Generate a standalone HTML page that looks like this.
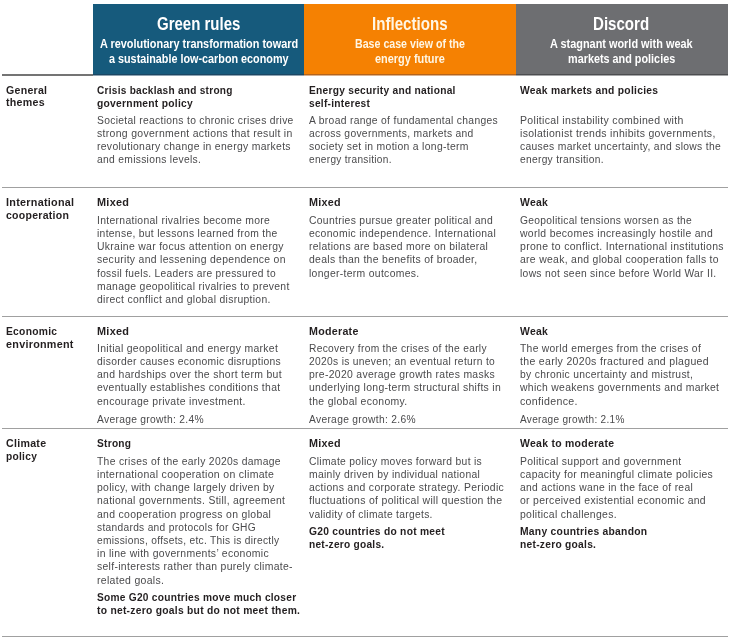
<!DOCTYPE html>
<html lang="en">
<head>
<meta charset="utf-8">
<title>Scenario comparison</title>
<style>
html,body{margin:0;padding:0;background:#fff;}
body{width:731px;height:639px;overflow:hidden;position:relative;font-family:"Liberation Sans",sans-serif;}
#tbl{position:absolute;left:0;top:0;width:731px;height:639px;}
.col{position:absolute;top:4px;height:72px;}
.c1{left:93px;width:211px;background:linear-gradient(#165a7c 0,#165a7c 70px,#1b4764 70px,#1b4764 71px,#8ea4b3 71px,#8ea4b3 72px);}
.c2{left:304px;width:212px;background:linear-gradient(#f58102 0,#f58102 70px,#b5641b 70px,#b5641b 71px,#dbb28e 71px,#dbb28e 72px);}
.c3{left:516px;width:212px;background:linear-gradient(#6d6e71 0,#6d6e71 70px,#4c4d50 70px,#4c4d50 71px,#a6a7a9 71px,#a6a7a9 72px);}
.rule{position:absolute;left:2px;width:726px;height:1px;background:#a0a0a0;}
.rule.top{top:74px;height:2px;width:91px;background:#747474;}
.cell,.rowh,.hd3{position:absolute;left:0;top:0;}
.ln{position:absolute;display:block;white-space:nowrap;line-height:14px;height:14px;transform-origin:0 50%;}
.ht{font-size:17.6px;font-weight:bold;color:#fff;}
.hs{font-size:12.2px;font-weight:bold;color:#fff;}
.h2 .ht,.h2 .hs{color:#fff6e4;}
.lb{font-size:11.7px;font-weight:bold;color:#231f20;letter-spacing:0.3px;}
.hd{font-size:11.7px;font-weight:bold;color:#231f20;letter-spacing:0.3px;}
.bd{font-size:11.7px;color:#4a4a4c;letter-spacing:0.35px;}
</style>
</head>
<body>
<div id="tbl">
<div class="col c1"></div><div class="col c2"></div><div class="col c3"></div>
<div class="rule top"></div>
<div class="rule" style="top:187px"></div>
<div class="rule" style="top:316px"></div>
<div class="rule" style="top:428px"></div>
<div class="rule" style="top:636px"></div>
<div class="hd3 h1">
<span class="ln ht" id="n0" style="left:156.81px;top:16.90px;transform:scaleX(0.8528)">Green rules</span>
<span class="ln hs" id="n1" style="left:100.32px;top:36.77px;transform:scaleX(0.8939)">A revolutionary transformation toward</span>
<span class="ln hs" id="n2" style="left:109.45px;top:52.37px;transform:scaleX(0.8866)">a sustainable low-carbon economy</span>
</div>
<div class="hd3 h2">
<span class="ln ht" id="n3" style="left:371.90px;top:16.60px;transform:scaleX(0.8598)">Inflections</span>
<span class="ln hs" id="n4" style="left:355.01px;top:36.77px;transform:scaleX(0.8726)">Base case view of the</span>
<span class="ln hs" id="n5" style="left:374.54px;top:52.37px;transform:scaleX(0.8974)">energy future</span>
</div>
<div class="hd3 h3">
<span class="ln ht" id="n6" style="left:592.91px;top:16.60px;transform:scaleX(0.8569)">Discord</span>
<span class="ln hs" id="n7" style="left:549.67px;top:36.77px;transform:scaleX(0.8948)">A stagnant world with weak</span>
<span class="ln hs" id="n8" style="left:568.32px;top:52.37px;transform:scaleX(0.8890)">markets and policies</span>
</div>
<div class="rowh l1">
<span class="ln lb" id="n9" style="left:5.60px;top:82.75px;transform:scaleX(0.9049)">General</span>
<span class="ln lb" id="n10" style="left:5.60px;top:94.95px;transform:scaleX(0.9125)">themes</span>
</div>
<div class="rowh l2">
<span class="ln lb" id="n11" style="left:5.60px;top:194.75px;transform:scaleX(0.9236)">International</span>
<span class="ln lb" id="n12" style="left:5.60px;top:207.95px;transform:scaleX(0.9006)">cooperation</span>
</div>
<div class="rowh l3">
<span class="ln lb" id="n13" style="left:5.60px;top:323.95px;transform:scaleX(0.8796)">Economic</span>
<span class="ln lb" id="n14" style="left:5.60px;top:336.95px;transform:scaleX(0.9222)">environment</span>
</div>
<div class="rowh l4">
<span class="ln lb" id="n15" style="left:5.60px;top:435.95px;transform:scaleX(0.9096)">Climate</span>
<span class="ln lb" id="n16" style="left:5.60px;top:448.95px;transform:scaleX(0.8734)">policy</span>
</div>
<div class="cell c11">
<span class="ln hd" id="n17" style="left:96.90px;top:82.75px;transform:scaleX(0.8630)">Crisis backlash and strong</span>
<span class="ln hd" id="n18" style="left:96.90px;top:95.85px;transform:scaleX(0.8808)">government policy</span>
<span class="ln bd" id="n19" style="left:96.90px;top:112.65px;transform:scaleX(0.8809)">Societal reactions to chronic crises drive</span>
<span class="ln bd" id="n20" style="left:96.90px;top:125.85px;transform:scaleX(0.8947)">strong government actions that result in</span>
<span class="ln bd" id="n21" style="left:96.90px;top:139.05px;transform:scaleX(0.8895)">revolutionary change in energy markets</span>
<span class="ln bd" id="n22" style="left:96.90px;top:152.25px;transform:scaleX(0.8795)">and emissions levels.</span>
</div>
<div class="cell c12">
<span class="ln hd" id="n23" style="left:309.10px;top:82.75px;transform:scaleX(0.8723)">Energy security and national</span>
<span class="ln hd" id="n24" style="left:309.10px;top:95.85px;transform:scaleX(0.8720)">self-interest</span>
<span class="ln bd" id="n25" style="left:309.10px;top:112.65px;transform:scaleX(0.8832)">A broad range of fundamental changes</span>
<span class="ln bd" id="n26" style="left:309.10px;top:125.85px;transform:scaleX(0.8809)">across governments, markets and</span>
<span class="ln bd" id="n27" style="left:309.10px;top:139.05px;transform:scaleX(0.8886)">society set in motion a long-term</span>
<span class="ln bd" id="n28" style="left:309.10px;top:152.25px;transform:scaleX(0.8626)">energy transition.</span>
</div>
<div class="cell c13">
<span class="ln hd" id="n29" style="left:520.10px;top:82.75px;transform:scaleX(0.8826)">Weak markets and policies</span>
<span class="ln bd" id="n30" style="left:520.10px;top:112.65px;transform:scaleX(0.9002)">Political instability combined with</span>
<span class="ln bd" id="n31" style="left:520.10px;top:125.85px;transform:scaleX(0.8961)">isolationist trends inhibits governments,</span>
<span class="ln bd" id="n32" style="left:520.10px;top:139.05px;transform:scaleX(0.8837)">causes market uncertainty, and slows the</span>
<span class="ln bd" id="n33" style="left:520.10px;top:152.25px;transform:scaleX(0.8730)">energy transition.</span>
</div>
<div class="cell c21">
<span class="ln hd" id="n34" style="left:96.90px;top:194.95px;transform:scaleX(0.9318)">Mixed</span>
<span class="ln bd" id="n35" style="left:96.90px;top:212.75px;transform:scaleX(0.8886)">International rivalries become more</span>
<span class="ln bd" id="n36" style="left:96.90px;top:225.95px;transform:scaleX(0.8826)">intense, but lessons learned from the</span>
<span class="ln bd" id="n37" style="left:96.90px;top:239.15px;transform:scaleX(0.8904)">Ukraine war focus attention on energy</span>
<span class="ln bd" id="n38" style="left:96.90px;top:252.35px;transform:scaleX(0.8903)">security and lessening dependence on</span>
<span class="ln bd" id="n39" style="left:96.90px;top:265.55px;transform:scaleX(0.8731)">fossil fuels. Leaders are pressured to</span>
<span class="ln bd" id="n40" style="left:96.90px;top:278.75px;transform:scaleX(0.8889)">manage geopolitical rivalries to prevent</span>
<span class="ln bd" id="n41" style="left:96.90px;top:291.95px;transform:scaleX(0.8868)">direct conflict and global disruption.</span>
</div>
<div class="cell c22">
<span class="ln hd" id="n42" style="left:309.10px;top:194.95px;transform:scaleX(0.9232)">Mixed</span>
<span class="ln bd" id="n43" style="left:309.10px;top:212.75px;transform:scaleX(0.8863)">Countries pursue greater political and</span>
<span class="ln bd" id="n44" style="left:309.10px;top:225.95px;transform:scaleX(0.8902)">economic independence. International</span>
<span class="ln bd" id="n45" style="left:309.10px;top:239.15px;transform:scaleX(0.8844)">relations are based more on bilateral</span>
<span class="ln bd" id="n46" style="left:309.10px;top:252.35px;transform:scaleX(0.8916)">deals than the benefits of broader,</span>
<span class="ln bd" id="n47" style="left:309.10px;top:265.55px;transform:scaleX(0.8890)">longer-term outcomes.</span>
</div>
<div class="cell c23">
<span class="ln hd" id="n48" style="left:520.10px;top:194.95px;transform:scaleX(0.8921)">Weak</span>
<span class="ln bd" id="n49" style="left:520.10px;top:212.75px;transform:scaleX(0.8775)">Geopolitical tensions worsen as the</span>
<span class="ln bd" id="n50" style="left:520.10px;top:225.95px;transform:scaleX(0.8910)">world becomes increasingly hostile and</span>
<span class="ln bd" id="n51" style="left:520.10px;top:239.15px;transform:scaleX(0.8957)">prone to conflict. International institutions</span>
<span class="ln bd" id="n52" style="left:520.10px;top:252.35px;transform:scaleX(0.8896)">are weak, and global cooperation falls to</span>
<span class="ln bd" id="n53" style="left:520.10px;top:265.55px;transform:scaleX(0.8806)">lows not seen since before World War II.</span>
</div>
<div class="cell c31">
<span class="ln hd" id="n54" style="left:96.90px;top:323.75px;transform:scaleX(0.9318)">Mixed</span>
<span class="ln bd" id="n55" style="left:96.90px;top:340.85px;transform:scaleX(0.8923)">Initial geopolitical and energy market</span>
<span class="ln bd" id="n56" style="left:96.90px;top:354.05px;transform:scaleX(0.8845)">disorder causes economic disruptions</span>
<span class="ln bd" id="n57" style="left:96.90px;top:367.25px;transform:scaleX(0.8921)">and hardships over the short term but</span>
<span class="ln bd" id="n58" style="left:96.90px;top:380.45px;transform:scaleX(0.8893)">eventually establishes conditions that</span>
<span class="ln bd" id="n59" style="left:96.90px;top:393.65px;transform:scaleX(0.8924)">encourage private investment.</span>
<span class="ln bd" id="n60" style="left:96.90px;top:411.65px;transform:scaleX(0.8782)">Average growth: 2.4%</span>
</div>
<div class="cell c32">
<span class="ln hd" id="n61" style="left:309.10px;top:323.75px;transform:scaleX(0.9133)">Moderate</span>
<span class="ln bd" id="n62" style="left:309.10px;top:340.85px;transform:scaleX(0.8750)">Recovery from the crises of the early</span>
<span class="ln bd" id="n63" style="left:309.10px;top:354.05px;transform:scaleX(0.8773)">2020s is uneven; an eventual return to</span>
<span class="ln bd" id="n64" style="left:309.10px;top:367.25px;transform:scaleX(0.8895)">pre-2020 average growth rates masks</span>
<span class="ln bd" id="n65" style="left:309.10px;top:380.45px;transform:scaleX(0.8933)">underlying long-term structural shifts in</span>
<span class="ln bd" id="n66" style="left:309.10px;top:393.65px;transform:scaleX(0.8928)">the global economy.</span>
<span class="ln bd" id="n67" style="left:309.10px;top:411.65px;transform:scaleX(0.8771)">Average growth: 2.6%</span>
</div>
<div class="cell c33">
<span class="ln hd" id="n68" style="left:520.10px;top:323.75px;transform:scaleX(0.8921)">Weak</span>
<span class="ln bd" id="n69" style="left:520.10px;top:340.85px;transform:scaleX(0.8811)">The world emerges from the crises of</span>
<span class="ln bd" id="n70" style="left:520.10px;top:354.05px;transform:scaleX(0.9003)">the early 2020s fractured and plagued</span>
<span class="ln bd" id="n71" style="left:520.10px;top:367.25px;transform:scaleX(0.8818)">by chronic uncertainty and mistrust,</span>
<span class="ln bd" id="n72" style="left:520.10px;top:380.45px;transform:scaleX(0.8882)">which weakens governments and market</span>
<span class="ln bd" id="n73" style="left:520.10px;top:393.65px;transform:scaleX(0.9080)">confidence.</span>
<span class="ln bd" id="n74" style="left:520.10px;top:411.65px;transform:scaleX(0.8599)">Average growth: 2.1%</span>
</div>
<div class="cell c41">
<span class="ln hd" id="n75" style="left:96.90px;top:435.75px;transform:scaleX(0.8682)">Strong</span>
<span class="ln bd" id="n76" style="left:96.90px;top:453.75px;transform:scaleX(0.8833)">The crises of the early 2020s damage</span>
<span class="ln bd" id="n77" style="left:96.90px;top:466.95px;transform:scaleX(0.8993)">international cooperation on climate</span>
<span class="ln bd" id="n78" style="left:96.90px;top:480.15px;transform:scaleX(0.8917)">policy, with change largely driven by</span>
<span class="ln bd" id="n79" style="left:96.90px;top:493.35px;transform:scaleX(0.8851)">national governments. Still, agreement</span>
<span class="ln bd" id="n80" style="left:96.90px;top:506.55px;transform:scaleX(0.8930)">and cooperation progress on global</span>
<span class="ln bd" id="n81" style="left:96.90px;top:519.75px;transform:scaleX(0.8720)">standards and protocols for GHG</span>
<span class="ln bd" id="n82" style="left:96.90px;top:532.95px;transform:scaleX(0.8710)">emissions, offsets, etc. This is directly</span>
<span class="ln bd" id="n83" style="left:96.90px;top:546.15px;transform:scaleX(0.8925)">in line with governments’ economic</span>
<span class="ln bd" id="n84" style="left:96.90px;top:559.35px;transform:scaleX(0.8906)">self-interests rather than purely climate-</span>
<span class="ln bd" id="n85" style="left:96.90px;top:572.55px;transform:scaleX(0.8959)">related goals.</span>
<span class="ln hd" id="n86" style="left:96.90px;top:589.65px;transform:scaleX(0.8691)">Some G20 countries move much closer</span>
<span class="ln hd" id="n87" style="left:96.90px;top:602.75px;transform:scaleX(0.8814)">to net-zero goals but do not meet them.</span>
</div>
<div class="cell c42">
<span class="ln hd" id="n88" style="left:309.10px;top:435.75px;transform:scaleX(0.9232)">Mixed</span>
<span class="ln bd" id="n89" style="left:309.10px;top:453.75px;transform:scaleX(0.8827)">Climate policy moves forward but is</span>
<span class="ln bd" id="n90" style="left:309.10px;top:466.95px;transform:scaleX(0.8859)">mainly driven by individual national</span>
<span class="ln bd" id="n91" style="left:309.10px;top:480.15px;transform:scaleX(0.8906)">actions and corporate strategy. Periodic</span>
<span class="ln bd" id="n92" style="left:309.10px;top:493.35px;transform:scaleX(0.8962)">fluctuations of political will question the</span>
<span class="ln bd" id="n93" style="left:309.10px;top:506.55px;transform:scaleX(0.8777)">validity of climate targets.</span>
<span class="ln hd" id="n94" style="left:309.10px;top:523.95px;transform:scaleX(0.8777)">G20 countries do not meet</span>
<span class="ln hd" id="n95" style="left:309.10px;top:537.15px;transform:scaleX(0.8672)">net-zero goals.</span>
</div>
<div class="cell c43">
<span class="ln hd" id="n96" style="left:520.10px;top:435.75px;transform:scaleX(0.8959)">Weak to moderate</span>
<span class="ln bd" id="n97" style="left:520.10px;top:453.75px;transform:scaleX(0.8902)">Political support and government</span>
<span class="ln bd" id="n98" style="left:520.10px;top:466.95px;transform:scaleX(0.8914)">capacity for meaningful climate policies</span>
<span class="ln bd" id="n99" style="left:520.10px;top:480.15px;transform:scaleX(0.8807)">and actions wane in the face of real</span>
<span class="ln bd" id="n100" style="left:520.10px;top:493.35px;transform:scaleX(0.8919)">or perceived existential economic and</span>
<span class="ln bd" id="n101" style="left:520.10px;top:506.55px;transform:scaleX(0.8916)">political challenges.</span>
<span class="ln hd" id="n102" style="left:520.10px;top:523.95px;transform:scaleX(0.8830)">Many countries abandon</span>
<span class="ln hd" id="n103" style="left:520.10px;top:537.15px;transform:scaleX(0.8762)">net-zero goals.</span>
</div>
</div>
</body>
</html>
